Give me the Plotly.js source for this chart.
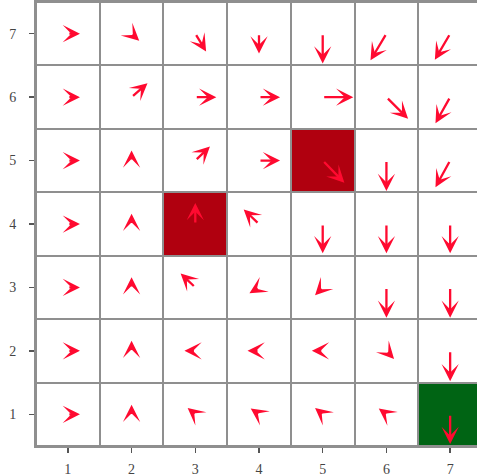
<!DOCTYPE html>
<html>
<head>
<meta charset="utf-8">
<script src="https://cdn.plot.ly/plotly-3.0.1.min.js"></script>
<style>
  html, body { margin: 0; padding: 0; overflow: hidden; background: #ffffff; }
  #chart { width: 482px; height: 476px; }
</style>
</head>
<body>
<div id="chart"></div>
<script>
// grid coordinates
const cols = [1, 2, 3, 4, 5, 6, 7];
const rows = [1, 2, 3, 4, 5, 6, 7];
const tickLabels = ['1', '2', '3', '4', '5', '6', '7'];

// cell types, listed from row 1 (bottom) to row 7 (top): 0 = normal, 1 = trap, 2 = goal
const cellType = [
  [0, 0, 0, 0, 0, 0, 2],
  [0, 0, 0, 0, 0, 0, 0],
  [0, 0, 0, 0, 0, 0, 0],
  [0, 0, 1, 0, 0, 0, 0],
  [0, 0, 0, 0, 1, 0, 0],
  [0, 0, 0, 0, 0, 0, 0],
  [0, 0, 0, 0, 0, 0, 0]
];

// arrow x-components per row (row 1 first)
const U = [
  [0.19, 0.00, -0.12, -0.13, -0.12, -0.12, 0.00],
  [0.19, 0.00, -0.17, -0.18, -0.17, 0.12, 0.00],
  [0.19, 0.00, -0.23, -0.15, -0.12, 0.00, 0.00],
  [0.19, 0.00, 0.00, -0.24, 0.00, 0.00, 0.00],
  [0.19, 0.00, 0.23, 0.33, 0.34, 0.00, -0.23],
  [0.19, 0.25, 0.33, 0.33, 0.48, 0.34, -0.23],
  [0.19, 0.12, 0.17, 0.00, 0.00, -0.25, -0.24]
];
// arrow y-components per row (row 1 first)
const V = [
  [0.00, 0.15, 0.10, 0.09, 0.10, 0.09, -0.47],
  [0.00, 0.16, 0.00, 0.00, 0.00, -0.13, -0.48],
  [0.00, 0.16, 0.22, -0.09, -0.125, -0.48, -0.48],
  [0.00, 0.16, 0.33, 0.23, -0.46, -0.46, -0.46],
  [0.00, 0.16, 0.22, 0.00, -0.35, -0.48, -0.42],
  [0.00, 0.22, 0.00, 0.00, 0.00, -0.34, -0.41],
  [0.00, -0.11, -0.28, -0.31, -0.47, -0.42, -0.41]
];

const arrowColor = '#ff0a30';
const gridColor = '#8f8f8f';

const heat = {
  type: 'heatmap',
  x: cols,
  y: rows,
  z: cellType,
  zmin: 0,
  zmax: 2,
  colorscale: [
    [0, '#ffffff'], [0.25, '#ffffff'],
    [0.25, '#b0000f'], [0.75, '#b0000f'],
    [0.75, '#006414'], [1, '#006414']
  ],
  showscale: false,
  xgap: 2,
  ygap: 2,
  hoverinfo: 'skip'
};

const annotations = [];
rows.forEach((r, i) => {
  cols.forEach((c, j) => {
    annotations.push({
      x: c + U[i][j], y: r + V[i][j],
      ax: c, ay: r,
      xref: 'x', yref: 'y', axref: 'x', ayref: 'y',
      text: '',
      showarrow: true,
      arrowhead: 3,
      arrowsize: 1.25,
      arrowwidth: 2.3,
      arrowcolor: arrowColor,
      standoff: 0,
      startstandoff: 0
    });
  });
});

const axisCommon = {
  range: [0.5, 7.5],
  tickmode: 'array',
  tickvals: cols,
  ticktext: tickLabels,
  ticks: 'outside',
  ticklen: 5,
  tickwidth: 1.5,
  tickcolor: '#555555',
  showline: true,
  linecolor: gridColor,
  linewidth: 2,
  mirror: 'ticks',
  showgrid: false,
  zeroline: false,
  fixedrange: true,
  tickfont: { family: 'Liberation Serif, DejaVu Serif, serif', size: 14, color: '#444444' }
};

const layout = {
  width: 482,
  height: 476,
  margin: { l: 36, r: 0, t: 2, b: 30 },
  paper_bgcolor: '#ffffff',
  plot_bgcolor: gridColor,
  showlegend: false,
  xaxis: Object.assign({}, axisCommon, { ticklabelstandoff: 4 }),
  yaxis: Object.assign({}, axisCommon, { ticklabelstandoff: 10 }),
  annotations: annotations
};

Plotly.newPlot('chart', [heat], layout, { staticPlot: true, displayModeBar: false });
</script>
</body>
</html>
